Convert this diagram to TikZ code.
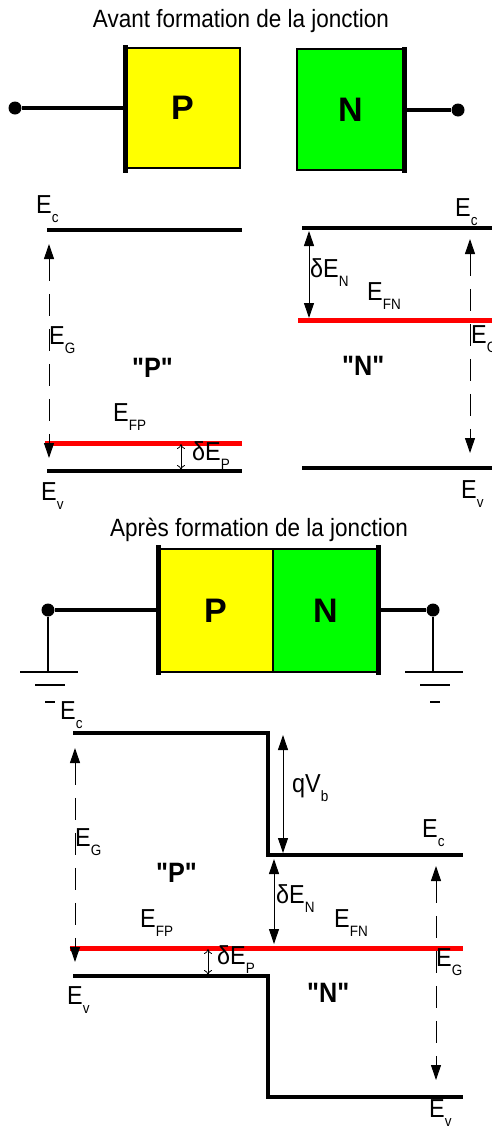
\documentclass[tikz,border=0pt]{standalone}
\usepackage{fontspec}
\usepackage{graphicx}
\usetikzlibrary{arrows.meta}
\newfontfamily\arial{Liberation Sans}
\newcommand\cond[1]{\scalebox{0.9}[1]{#1}}
\newcommand\En[1]{E\raisebox{-9pt}{\fontsize{15}{15}\selectfont #1}}
\definecolor{pyellow}{RGB}{255,255,0}
\definecolor{ngreen}{RGB}{0,255,0}
\definecolor{fred}{RGB}{255,0,0}
\tikzset{
  lbl/.style={inner sep=0pt, anchor=base west, font=\arial\fontsize{26}{28}\selectfont},
  ttl/.style={inner sep=0pt, anchor=base, font=\arial\fontsize{25}{28}\selectfont},
  quot/.style={inner sep=0pt, anchor=base west, font=\arial\bfseries\fontsize{28}{30}\selectfont},
  boxletter/.style={font=\arial\bfseries\fontsize{34}{36}\selectfont},
  level/.style={line width=4pt},
  fermi/.style={draw=fred, line width=5pt},
  wire/.style={line width=3.5pt},
  thickedge/.style={line width=5pt},
  thinline/.style={line width=1.5pt},
  dot/.style={circle, fill=black, inner sep=0pt, minimum size=13pt},
  gaparrow/.style={line width=1pt, {Triangle[length=15pt,width=10pt]}-{Triangle[length=15pt,width=10pt]}, dash pattern=on 22pt off 13pt},
  solarrow/.style={line width=1pt, {Triangle[length=15pt,width=10pt]}-{Triangle[length=15pt,width=10pt]}},
  openarrow/.style={line width=0.8pt, {To[length=5pt,width=8pt]}-{To[length=5pt,width=8pt]}},
}
\begin{document}
\begin{tikzpicture}[x=1pt,y=-1pt]
\useasboundingbox[fill=white] (0,0) rectangle (492,1130);

% ===== Before junction =====
\node[ttl] (t1) at (241,27) {\cond{Avant formation de la jonction}};
\node[draw, fill=pyellow, thinline, minimum width=115pt, minimum height=120pt, inner sep=0pt, boxletter] (pbox) at (182.5,108) {P};
\node[draw, fill=ngreen, thinline, minimum width=107pt, minimum height=121pt, inner sep=0pt, boxletter] (nbox) at (350.5,109.5) {N};
\coordinate (pl1) at (125,45); \coordinate (pl2) at (125,173);
\coordinate (nr1) at (404,47); \coordinate (nr2) at (404,173);
\draw[thickedge] (pl1) -- (pl2);
\draw[thickedge] (nr1) -- (nr2);
\node[dot] (dl) at (15,108) {};
\node[dot] (dr) at (458,110) {};
\draw[wire] (dl) -- (125,108);
\draw[wire] (404,110) -- (dr);

% P side levels
\coordinate (pc1) at (47,230); \coordinate (pc2) at (242,230);
\coordinate (pf1) at (45,443); \coordinate (pf2) at (242,443);
\coordinate (pv1) at (47,471); \coordinate (pv2) at (242,471);
\draw[level] (pc1) -- (pc2);
\draw[fermi] (pf1) -- (pf2);
\draw[level] (pv1) -- (pv2);
\coordinate (pga) at (49,244); \coordinate (pgb) at (49,458);
\draw[gaparrow] (pga) -- (pgb);
\coordinate (dpa) at (181,444); \coordinate (dpb) at (181,470);
\draw[openarrow] (dpa) -- (dpb);
\node[lbl] (lEc1) at (36,213) {\cond{\En{c}}};
\node[lbl] (lEG1) at (49,344) {\cond{\En{G}}};
\node[quot] (lP1) at (132,377) {\cond{"P"}};
\node[lbl] (lEFP1) at (113,421) {\cond{\En{FP}}};
\node[lbl] (ldEP1) at (192,460) {\cond{δ\En{P}}};
\node[lbl] (lEv1) at (41,500) {\cond{\En{v}}};

% N side levels
\coordinate (nc1) at (302,228); \coordinate (nc2) at (492,228);
\coordinate (nf1) at (298,320); \coordinate (nf2) at (492,320);
\coordinate (nv1) at (302,468); \coordinate (nv2) at (492,468);
\draw[level] (nc1) -- (nc2);
\draw[fermi] (nf1) -- (nf2);
\draw[level] (nv1) -- (nv2);
\coordinate (dna) at (309,231); \coordinate (dnb) at (309,318);
\draw[solarrow] (dna) -- (dnb);
\coordinate (nga) at (470,239); \coordinate (ngb) at (470,453);
\draw[gaparrow] (nga) -- (ngb);
\node[lbl] (lEc2) at (455,216) {\cond{\En{c}}};
\node[lbl] (ldEN2) at (310,277) {\cond{δ\En{N}}};
\node[lbl] (lEFN2) at (367,300) {\cond{\En{FN}}};
\node[quot] (lN2) at (342,375) {\cond{"N"}};
\node[lbl] (lEG2) at (471,343) {\cond{\En{G}}};
\node[lbl] (lEv2) at (461,498) {\cond{\En{v}}};

% ===== After junction =====
\node[ttl] (t2) at (259,536) {\cond{Après formation de la jonction}};
\node[draw, fill=pyellow, thinline, minimum width=115pt, minimum height=123pt, inner sep=0pt, boxletter] (pbox2) at (215.5,610.5) {P};
\node[draw, fill=ngreen, thinline, minimum width=105pt, minimum height=123pt, inner sep=0pt, boxletter] (nbox2) at (325.5,610.5) {N};
\coordinate (bl1) at (158,545); \coordinate (bl2) at (158,675);
\coordinate (br1) at (378,545); \coordinate (br2) at (378,675);
\draw[thickedge] (bl1) -- (bl2);
\draw[thickedge] (br1) -- (br2);
\node[dot] (gl) at (48,610) {};
\node[dot] (gr) at (433,610) {};
\draw[wire] (gl) -- (158,610);
\draw[wire] (378,610) -- (gr);
% grounds
\coordinate (glb) at (48,672); \coordinate (grb) at (433,672);
\draw[thinline] (gl) -- (glb);
\draw[thinline] (gr) -- (grb);
\draw[thinline] (20,672) -- (78,672) (35,685) -- (65,685) (45,702) -- (55,702);
\draw[thinline] (405,672) -- (463,672) (420,685) -- (450,685) (430,702) -- (440,702);

% band diagram
\coordinate (c1) at (73,733); \coordinate (c2) at (268,733); \coordinate (c3) at (268,855); \coordinate (c4) at (463,855);
\coordinate (v1) at (73,976); \coordinate (v2) at (268,976); \coordinate (v3) at (268,1097); \coordinate (v4) at (463,1097);
\coordinate (f1) at (70,948); \coordinate (f2) at (463,948);
\draw[level] (c1) -- (c2) -- (c3) -- (c4);
\draw[level] (v1) -- (v2) -- (v3) -- (v4);
\draw[fermi] (f1) -- (f2);
\coordinate (lga) at (75,748); \coordinate (lgb) at (75,962);
\draw[gaparrow] (lga) -- (lgb);
\coordinate (qa) at (283,735); \coordinate (qb) at (283,853);
\draw[solarrow] (qa) -- (qb);
\coordinate (dna2) at (274,859); \coordinate (dnb2) at (274,944);
\draw[solarrow] (dna2) -- (dnb2);
\coordinate (rga) at (436,866); \coordinate (rgb) at (436,1080);
\draw[gaparrow] (rga) -- (rgb);
\coordinate (dpa2) at (208,949); \coordinate (dpb2) at (208,975);
\draw[openarrow] (dpa2) -- (dpb2);

\node[lbl] (bEc1) at (60,719) {\cond{\En{c}}};
\node[lbl] (bEG1) at (75,846) {\cond{\En{G}}};
\node[quot] (bP) at (156,882) {\cond{"P"}};
\node[lbl] (bEFP) at (140,927) {\cond{\En{FP}}};
\node[lbl] (bdEP) at (217,964) {\cond{δ\En{P}}};
\node[lbl] (bEv1) at (67,1004) {\cond{\En{v}}};
\node[lbl] (bqV) at (292,792) {\cond{qV\raisebox{-9pt}{\fontsize{15}{15}\selectfont b}}};
\node[lbl] (bEc2) at (422,837) {\cond{\En{c}}};
\node[lbl] (bdEN) at (276,903) {\cond{δ\En{N}}};
\node[lbl] (bEFN) at (334,927) {\cond{\En{FN}}};
\node[lbl] (bEG2) at (436,966) {\cond{\En{G}}};
\node[quot] (bN) at (307,1002) {\cond{"N"}};
\node[lbl] (bEv2) at (429,1117) {\cond{\En{v}}};
\end{tikzpicture}
\end{document}
